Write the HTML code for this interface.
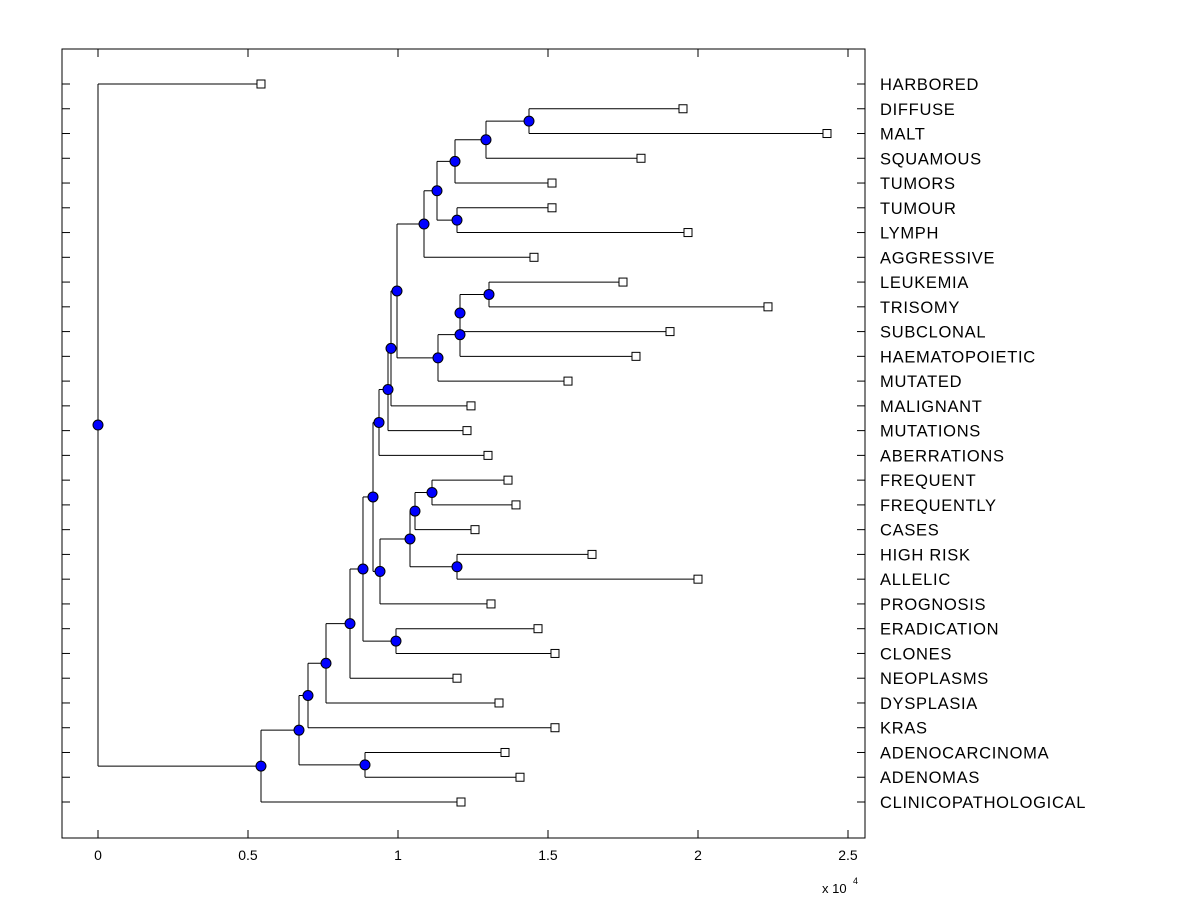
<!DOCTYPE html>
<html><head><meta charset="utf-8"><style>
body{margin:0;background:#fff;}
svg text{font-family:"Liberation Sans",Arial,sans-serif;}
</style></head><body>
<svg id="chart" width="1200" height="900" xmlns="http://www.w3.org/2000/svg">
<rect x="62" y="49" width="803" height="789" fill="#fff" stroke="#000" stroke-width="1"/>
<g id="g"></g>
</svg>
<script>
const leafNames=["HARBORED","DIFFUSE","MALT","SQUAMOUS","TUMORS","TUMOUR","LYMPH","AGGRESSIVE","LEUKEMIA","TRISOMY","SUBCLONAL","HAEMATOPOIETIC","MUTATED","MALIGNANT","MUTATIONS","ABERRATIONS","FREQUENT","FREQUENTLY","CASES","HIGH RISK","ALLELIC","PROGNOSIS","ERADICATION","CLONES","NEOPLASMS","DYSPLASIA","KRAS","ADENOCARCINOMA","ADENOMAS","CLINICOPATHOLOGICAL"];
const leafValues=[5433,19500,24300,18100,15133,15133,19667,14533,17500,22333,19067,17933,15667,12433,12300,13000,13667,13933,12567,16467,20000,13100,14667,15233,11967,13367,15233,13567,14067,12100];
// internal nodes: [name, value, childA, childB]; children: leaf index (number) or node name (string)
const nodeNames=["Z","Y","W","X","V","T","AC","AB","AA","U","S","Q","P","J","O","M","N","L","K","H","I","G","F","E","D","C","B","A","root"];
const nodeValues=[14367,12933,11900,11967,11300,10867,13033,12067,12067,11333,9967,9767,9667,9367,11133,10567,11967,10400,9400,9167,9933,8833,8400,7600,8900,7000,6700,5433,0];
const nodeChildren=[[1,2],["Z",3],["Y",4],[5,6],["W","X"],["V",7],[8,9],["AC",10],["AB",11],["AA",12],["T","U"],["S",13],["Q",14],["P",15],[16,17],["O",18],[19,20],["M","N"],["L",21],["J","K"],[22,23],["H","I"],["G",24],["F",25],[27,28],["E",26],["C","D"],["B",29],[0,"A"]];
const xTicks=[0,5000,10000,15000,20000,25000];
const xTickLabels=["0","0.5","1","1.5","2","2.5"];
const NS="http://www.w3.org/2000/svg",g=document.getElementById('g');
const X0=62,X1=865,XMIN=-1200,XMAX=25567;
const xs=v=>X0+(v-XMIN)/(XMAX-XMIN)*(X1-X0);
const ys=i=>84+i*(802-84)/29;
function el(t,a,nm){const e=document.createElementNS(NS,t);for(const k in a)e.setAttribute(k,a[k]);


g.appendChild(e);return e;}
const pos={};
function getPos(c){if(typeof c==='number')return {x:xs(leafValues[c]),y:ys(c)};return pos[c];}
nodeNames.forEach((n,i)=>{const a=getPos(nodeChildren[i][0]),b=getPos(nodeChildren[i][1]);pos[n]={x:xs(nodeValues[i]),y:(a.y+b.y)/2};});
nodeNames.forEach((n,i)=>{const p=pos[n];const a=getPos(nodeChildren[i][0]),b=getPos(nodeChildren[i][1]);
el('line',{x1:p.x,y1:a.y,x2:p.x,y2:b.y,stroke:'#000','stroke-width':1},'branch-vertical');
[a,b].forEach(c=>el('line',{x1:p.x,y1:c.y,x2:c.x,y2:c.y,stroke:'#000','stroke-width':1},'branch-horizontal'));});
leafNames.forEach((n,i)=>{const y=ys(i);
el('line',{x1:X0,y1:y,x2:X0+8,y2:y,stroke:'#000'},'y-tick');
el('line',{x1:X1-8,y1:y,x2:X1,y2:y,stroke:'#000'},'y-tick-right');
el('rect',{x:xs(leafValues[i])-4,y:y-4,width:8,height:8,fill:'#fff',stroke:'#000'},'leaf-marker');
const t=el('text',{x:880,y:y+6,'font-size':16.5,'letter-spacing':0.7},'leaf-label');t.textContent=n;});
nodeNames.forEach(n=>{const p=pos[n];el('circle',{cx:p.x,cy:p.y,r:5,fill:'#0000ff',stroke:'#000'},'node-marker');});
xTicks.forEach((v,i)=>{const x=xs(v);
el('line',{x1:x,y1:838,x2:x,y2:830,stroke:'#000'},'x-tick');
el('line',{x1:x,y1:49,x2:x,y2:57,stroke:'#000'},'x-tick-top');
const t=el('text',{x:x,y:860,'font-size':14,'text-anchor':'middle'},'x-tick-label');t.textContent=xTickLabels[i];});
const t=el('text',{x:822,y:893,'font-size':13},'x-axis-exponent');t.textContent='x 10';
const t2=el('text',{x:853,y:884,'font-size':9},'x-axis-exponent-power');t2.textContent='4';
</script>
</body></html>
